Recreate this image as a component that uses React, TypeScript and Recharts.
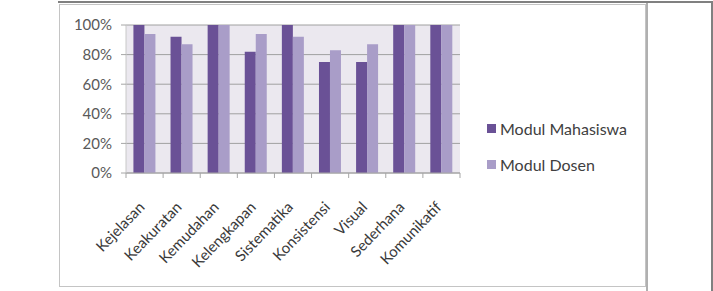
import { BarChart, Bar, XAxis, YAxis, CartesianGrid, Legend } from 'recharts';

const categories = [
  'Kejelasan',
  'Keakuratan',
  'Kemudahan',
  'Kelengkapan',
  'Sistematika',
  'Konsistensi',
  'Visual',
  'Sederhana',
  'Komunikatif',
];
const mahasiswa = [100, 92, 100, 82, 100, 75, 75, 100, 100];
const dosen = [94, 87, 100, 94, 92, 83, 87, 100, 100];
const yTicks = [0, 20, 40, 60, 80, 100];
const seriesOrder = ['Modul Mahasiswa', 'Modul Dosen'];

const data = categories.map((name, i) => ({
  name,
  mahasiswa: mahasiswa[i],
  dosen: dosen[i],
}));

const BAND = 334 / categories.length;
const FONT = 'Lato, "Liberation Sans", sans-serif';

const XTick = (props: any) => {
  const { x, y, payload, index } = props;
  return (
    <g transform={`translate(${x},${y})`}>
      <line x1={-BAND / 2} y1={0} x2={-BAND / 2} y2={5} stroke="#a6a6a6" />
      {index === categories.length - 1 && (
        <line x1={BAND / 2} y1={0} x2={BAND / 2} y2={5} stroke="#a6a6a6" />
      )}
      <text
        x={0}
        y={0}
        transform="translate(1,35) rotate(-46)"
        textAnchor="end"
        fontSize={15}
        fill="#3a3a3a"
        fontFamily={FONT}
      >
        {payload.value}
      </text>
    </g>
  );
};

const LegendBox = (props: any) => {
  const items = [...props.payload].sort(
    (a: any, b: any) => seriesOrder.indexOf(a.value) - seriesOrder.indexOf(b.value)
  );
  return (
    <div style={{ fontFamily: FONT, fontSize: 16, color: '#404040' }}>
      {items.map((p: any) => (
        <div key={p.value} style={{ display: 'flex', alignItems: 'center', height: 36 }}>
          <span
            style={{ width: 9, height: 9, background: p.color, marginRight: 4, display: 'inline-block' }}
          />
          {p.value}
        </div>
      ))}
    </div>
  );
};

export default function App() {
  return (
    <div style={{ position: 'relative', width: 713, height: 291, background: '#fff', overflow: 'hidden' }}>
      <style>{'body{margin:0;overflow:hidden}'}</style>
      <div style={{ position: 'absolute', left: 58, top: 1, width: 655, height: 2, background: '#808080' }} />
      <div style={{ position: 'absolute', left: 711, top: 1, width: 2, height: 290, background: '#808080' }} />
      <div style={{ position: 'absolute', left: 646, top: 3, width: 2, height: 288, background: '#b0b0b0' }} />
      <div
        style={{
          position: 'absolute',
          left: 59,
          top: 4,
          width: 585,
          height: 281,
          border: '1px solid #c4c4c4',
        }}
      />
      <div style={{ position: 'absolute', left: 60, top: 5 }}>
        <BarChart
          width={586}
          height={281}
          data={data}
          margin={{ top: 20, right: 36, left: 0, bottom: 0 }}
          barCategoryGap="20%"
          barGap={0}
        >
          <CartesianGrid vertical={false} stroke="#a0a0a0" fill="#ebe8ef" />
          <XAxis
            dataKey="name"
            interval={0}
            height={113}
            tickSize={0}
            tickMargin={0}
            tickLine={false}
            axisLine={{ stroke: '#a6a6a6' }}
            tick={<XTick />}
          />
          <YAxis
            domain={[0, 100]}
            ticks={yTicks}
            width={66}
            tickFormatter={(v) => `${v}%`}
            tick={{ fontSize: 15, fill: '#595959', fontFamily: FONT }}
            tickLine={{ stroke: '#a6a6a6' }}
            tickSize={5}
            tickMargin={9}
            axisLine={{ stroke: '#c8c8c8' }}
          />
          <YAxis
            yAxisId="wall"
            orientation="right"
            width={0}
            domain={[0, 100]}
            tick={false}
            tickLine={false}
            axisLine={{ stroke: '#cfcfcf' }}
          />
          <Legend
            layout="vertical"
            align="right"
            verticalAlign="middle"
            wrapperStyle={{ left: 427, top: 105, width: 150 }}
            content={<LegendBox />}
          />
          <Bar dataKey="mahasiswa" name="Modul Mahasiswa" fill="#6a5196" isAnimationActive={false} />
          <Bar dataKey="dosen" name="Modul Dosen" fill="#a99dc8" isAnimationActive={false} />
        </BarChart>
      </div>
    </div>
  );
}
